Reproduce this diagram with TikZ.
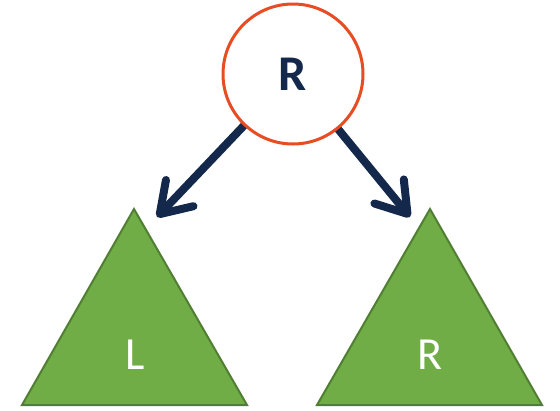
\documentclass[tikz,border=0pt]{standalone}
\usepackage{fontspec}
\setmainfont{Carlito}
\usetikzlibrary{arrows.meta,backgrounds}
\definecolor{navy}{HTML}{14284B}
\definecolor{ored}{HTML}{E84C22}
\definecolor{gfill}{HTML}{70AD47}
\definecolor{gline}{HTML}{507E32}
\tikzset{
  rootnode/.style={circle,draw=ored,line width=3pt,fill=white,minimum size=140pt,inner sep=0pt,
    font=\fontsize{50}{50}\selectfont\bfseries,text=navy},
  tri/.style={fill=gfill,draw=gline,line width=2pt,line join=miter},
  trilabel/.style={font=\fontsize{46}{46}\selectfont,text=white,inner sep=0pt},
  conn/.style={draw=navy,line width=8pt,-{Straight Barb[length=29pt,width=38pt,round]}},
}
\begin{document}
\begin{tikzpicture}[x=1pt,y=-1pt]
\useasboundingbox (0,0) rectangle (560,410);
% triangles
\draw[tri] (134,209) -- (247,405) -- (22,405) -- cycle;
\draw[tri] (430,209) -- (542,405) -- (317,405) -- cycle;
\node[trilabel] (lL) at (135,355) {L};
\node[trilabel] (lR) at (430,355) {R};
% root
\node[rootnode] (c) at (293,74) {R};
% arrows behind the root circle
\coordinate (lt) at (157,217);
\coordinate (rt) at (410,217);
\begin{pgfonlayer}{background}
\draw[conn] (c.center) -- (lt);
\draw[conn] (c.center) -- (rt);
\end{pgfonlayer}
\end{tikzpicture}
\end{document}
